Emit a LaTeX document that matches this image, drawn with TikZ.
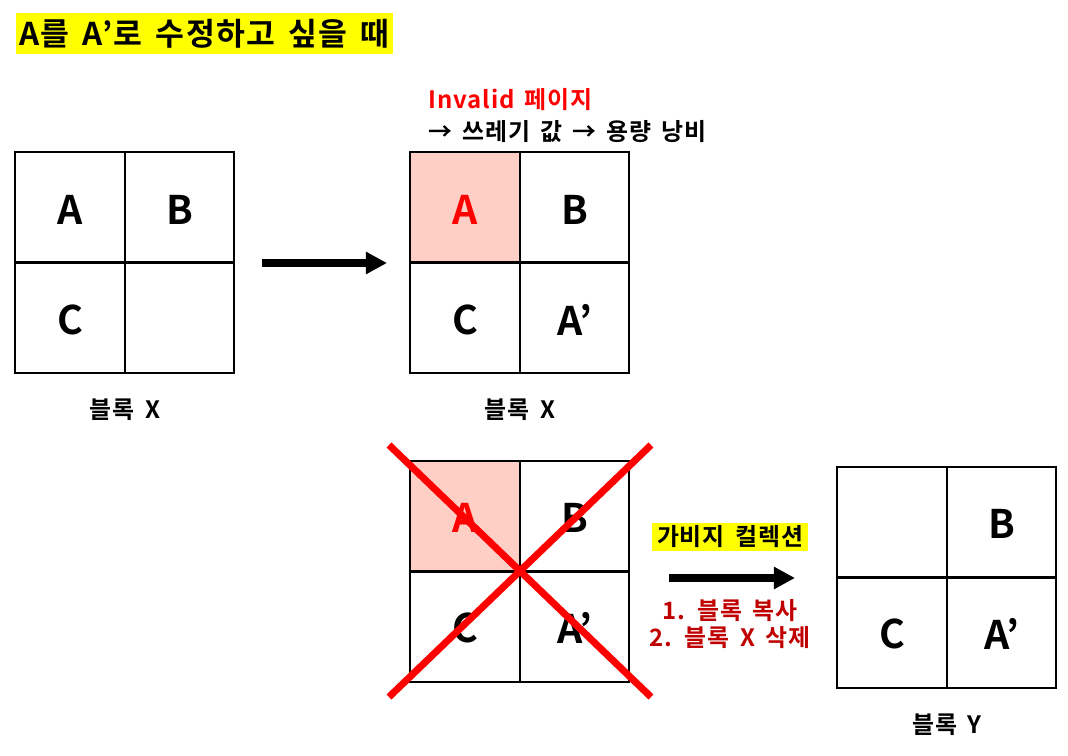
\documentclass[tikz,border=0pt]{standalone}
\usepackage{fontspec}
\setmainfont{Noto Sans CJK KR}[BoldFont={* Bold}]
\newfontfamily\krwide{Noto Sans CJK KR Bold}[LetterSpace=4, WordSpace=1.6]
\usepackage{tikz}
\usetikzlibrary{positioning,arrows.meta}
\usepackage{xcolor}
\definecolor{hlyellow}{RGB}{255,255,0}
\definecolor{invalidpink}{RGB}{255,206,196}
\definecolor{invalidred}{RGB}{255,0,0}
\definecolor{gcred}{RGB}{192,0,0}

\tikzset{
  gridline/.style={line width=1.6pt, line cap=rect},
  cell/.style={inner sep=0pt, font=\bfseries\fontsize{28}{30}\selectfont},
  caption/.style={inner sep=0pt, font=\krwide\fontsize{17}{19}\selectfont},
  note/.style={inner sep=0pt, font=\krwide\fontsize{17}{19}\selectfont},
  titlebox/.style={fill=hlyellow, inner sep=0pt, minimum width=9.43cm, minimum height=1.03cm, font=\krwide\fontsize{22.3}{26}\selectfont},
  gcbox/.style={fill=hlyellow, inner sep=0pt, minimum width=3.9cm, minimum height=0.7cm, font=\krwide\fontsize{17}{19}\selectfont},
  bigarrow/.style={line width=5pt, -{Triangle[length=15pt,width=15pt]}},
  crossline/.style={invalidred, line width=5pt}
}

\begin{document}
\begin{tikzpicture}[x=0.025cm, y=-0.025cm]
\useasboundingbox (0,0) rectangle (1068,756);

% Title
\node[titlebox] (title) at (204.5,33.5) {A를 A’로 수정하고 싶을 때};

% Invalid cells
\fill[invalidpink] (410,152) rectangle (520,263);
\fill[invalidpink] (410,461) rectangle (520,571);

% Blocks
\foreach \gx/\gy in {15/152, 410/152, 410/461, 837/467} {
  \draw[gridline] (\gx,\gy) rectangle ++(219,221);
  \draw[gridline] (\gx+110,\gy) -- ++(0,221);
  \draw[gridline] (\gx,\gy+110.5) -- ++(219,0);
}

% Block X (before)
\node[cell] (x1a) at (70,210) {A};
\node[cell] (x1b) at (180,210) {B};
\node[cell] (x1c) at (70,320) {C};

% Block X (after)
\node[cell, invalidred] (x2a) at (465,210) {A};
\node[cell] (x2b) at (575,210) {B};
\node[cell] (x2c) at (465,320) {C};
\node[cell] (x2d) at (575,320) {A’};

% Block X (erased)
\node[cell, invalidred] (x3a) at (465,518) {A};
\node[cell] (x3b) at (575,518) {B};
\node[cell] (x3c) at (465,628) {C};
\node[cell] (x3d) at (575,628) {A’};

% Block Y
\node[cell] (y1b) at (1002,524) {B};
\node[cell] (y1c) at (892,634) {C};
\node[cell] (y1d) at (1002,634) {A’};

% Invalid note
\node[note, invalidred, anchor=west] (invalid) at (428,100) {Invalid 페이지};
\node[note, anchor=west] (waste) at (428,132) {→ 쓰레기 값 → 용량 낭비};

% Captions
\node[caption] (capx1) at (125,410) {블록 X};
\node[caption] (capx2) at (520,410) {블록 X};
\node[caption] (capy) at (947,725) {블록 Y};

% Cross out
\coordinate (xtl) at (389,445);
\coordinate (xbr) at (651,697);
\coordinate (xtr) at (651,445);
\coordinate (xbl) at (389,697);
\draw[crossline] (xtl) -- (xbr);
\draw[crossline] (xtr) -- (xbl);

% Arrows
\coordinate (arr1s) at (262,263);
\coordinate (arr1e) at (387,263);
\draw[bigarrow] (arr1s) -- (arr1e);
\coordinate (arr2s) at (669,578);
\coordinate (arr2e) at (795,578);
\draw[bigarrow] (arr2s) -- (arr2e);

% Garbage collection
\node[gcbox] (gc) at (730,537) {가비지 컬렉션};
\node[caption, gcred, align=center] (gcsteps) at (730,624) {1. 블록 복사\\2. 블록 X 삭제};
\end{tikzpicture}
\end{document}
